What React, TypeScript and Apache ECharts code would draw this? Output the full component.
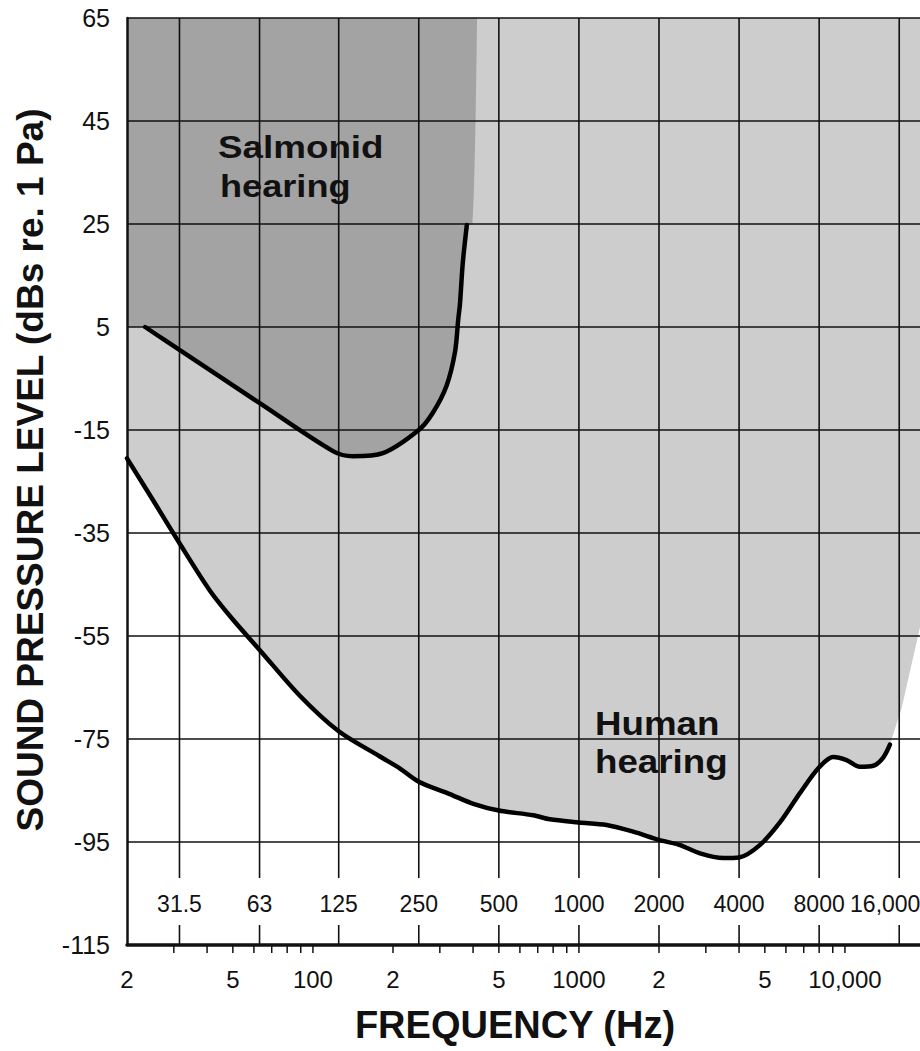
import React, { useEffect, useRef } from "react";
import * as echarts from "echarts";

const FONT = '"Liberation Sans", Arial, Helvetica, sans-serif';

// ---- axes ----
const yMin = -115;
const yMax = 65;
const yStep = 20;
const xMin = 20;
const xMax = 20000;

// lower frequency scale (labels + minor ticks below the axis)
const freqLabelValues = [20, 50, 100, 200, 500, 1000, 2000, 5000, 10000];
const freqLabelTexts = ["2", "5", "100", "2", "5", "1000", "2", "5", "10,000"];
const minorTickFreqs = [
  30, 40, 50, 60, 70, 80, 90, 100, 200, 300, 400, 500, 600, 700, 800, 900,
  1000, 2000, 3000, 4000, 5000, 6000, 7000, 8000, 9000, 10000,
];

// octave band grid lines and their labels
const octaveFreqs = [31.5, 63, 125, 250, 500, 1000, 2000, 4000, 8000, 16000];
const octaveLabels = ["31.5", "63", "125", "250", "500", "1000", "2000", "4000", "8000", "16,000"];
const octaveLineBottomDb = -102;

// ---- human hearing threshold ----
const humanFreq = [
  20, 25.1, 31.6, 41, 50, 62.8, 89.3, 125, 178.6, 212, 250, 327, 401, 500, 673, 778,
  1000, 1271, 1600, 2000, 2398, 2851, 3486, 4000, 4786, 5695, 6773, 8000, 9040,
  10145, 11380, 12780, 13930, 14760,
];
const humanDb = [
  -20.5, -28.7, -37.1, -46.2, -51.8, -57.6, -66.6, -73.5, -78.4, -80.7, -83.3, -85.7,
  -87.6, -88.9, -89.8, -90.6, -91.2, -91.7, -93, -94.6, -95.6, -97.2, -98.1, -98,
  -95.6, -91.2, -85.5, -80.5, -78.5, -79.1, -80.4, -80.2, -78.6, -76.1,
];
// white region right of the human curve end
const humanEdgeFreq = [14760, 16360, 20000, 20000, 14760];
const humanEdgeDb = [-76.1, -68.9, -49, -115, -115];

// ---- salmonid hearing threshold ----
const salmonFreq = [23.4, 31.6, 62.7, 118.9, 141.3, 183.2, 250, 282, 318, 342, 352, 357, 366, 379];
const salmonDb = [5, 0.5, -9.7, -19.1, -20.1, -19.5, -15, -11.7, -6.4, 0.1, 6.6, 9.4, 17.5, 24.8];
// extra boundary points of the dark salmonid zone
const salmonZoneStart = [[20, 5]];
const salmonZoneEnd = [[398, 25], [414, 65]];

const LIGHT = "#cdcdcd";
const DARK = "#a3a3a3";
const INK = "#111111";

export default function App() {
  const ref = useRef<HTMLDivElement>(null);

  useEffect(() => {
    if (!ref.current) return;
    const chart = echarts.init(ref.current, null, { renderer: "svg", width: 940, height: 1051 });

    const humanData = humanFreq.map((f, i) => [f, humanDb[i]]);
    const salmonData = salmonFreq.map((f, i) => [f, salmonDb[i]]);
    const salmonZone = [...salmonZoneStart, ...salmonData, ...salmonZoneEnd];

    const textStyle = (text: string, font: string, align: string) => ({
      text,
      font,
      fill: INK,
      align,
      textAlign: align,
      verticalAlign: "middle",
      textVerticalAlign: "middle",
    });

    const option: any = {
      animation: false,
      grid: {
        left: 127,
        right: 15,
        top: 18,
        bottom: 106,
        show: true,
        backgroundColor: LIGHT,
        borderWidth: 0,
        outerBoundsMode: "none",
      },
      xAxis: {
        type: "log",
        logBase: 10,
        min: xMin,
        max: xMax,
        z: 5,
        axisLine: { show: true, onZero: false, lineStyle: { color: INK, width: 3.5 } },
        axisTick: { show: false },
        splitLine: { show: false },
        minorTick: { show: false },
        axisLabel: {
          customValues: freqLabelValues,
          margin: 22,
          fontSize: 24,
          fontFamily: FONT,
          color: INK,
          formatter: (v: number) => {
            let best = 0;
            freqLabelValues.forEach((f, i) => {
              if (Math.abs(Math.log(f) - Math.log(v)) < Math.abs(Math.log(freqLabelValues[best]) - Math.log(v))) best = i;
            });
            return freqLabelTexts[best];
          },
        },
      },
      yAxis: {
        type: "value",
        min: yMin,
        max: yMax,
        interval: yStep,
        z: 5,
        axisLine: { show: true, lineStyle: { color: INK, width: 2.5 } },
        axisTick: { show: false },
        splitLine: { show: true, lineStyle: { color: INK, width: 1.6 } },
        axisLabel: { fontSize: 25, fontFamily: FONT, color: INK, margin: 17 },
      },
      graphic: [
        {
          type: "text",
          x: 30,
          y: 470,
          rotation: Math.PI / 2,
          style: textStyle("SOUND PRESSURE LEVEL (dBs re. 1 Pa)", `bold 37px ${FONT}`, "center"),
        },
        {
          type: "text",
          x: 515,
          y: 1025,
          style: textStyle("FREQUENCY (Hz)", `bold 38px ${FONT}`, "center"),
        },
        { type: "text", x: 218, y: 147, scaleX: 1.15, z: 20, style: textStyle("Salmonid", `bold 32px ${FONT}`, "left") },
        { type: "text", x: 220, y: 186, scaleX: 1.13, z: 20, style: textStyle("hearing", `bold 32px ${FONT}`, "left") },
        { type: "text", x: 595, y: 723, scaleX: 1.08, z: 20, style: textStyle("Human", `bold 34px ${FONT}`, "left") },
        { type: "text", x: 595, y: 761, scaleX: 1.08, z: 20, style: textStyle("hearing", `bold 34px ${FONT}`, "left") },
      ],
      series: [
        {
          name: "human-area",
          type: "line",
          data: humanData,
          smooth: 0.3,
          symbol: "none",
          silent: true,
          z: 2,
          lineStyle: { width: 0, opacity: 0 },
          areaStyle: { color: "#ffffff", opacity: 1, origin: "start" },
        },
        {
          name: "human-edge",
          type: "custom",
          silent: true,
          z: 2,
          data: [[xMax, yMin]],
          renderItem: (params: any, api: any) => {
            const pts = humanEdgeFreq.map((f, i) => api.coord([f, humanEdgeDb[i]]));
            return { type: "polygon", shape: { points: pts }, style: { fill: "#ffffff" } };
          },
        },
        {
          name: "salmonid-area",
          type: "line",
          data: salmonZone,
          smooth: 0.3,
          symbol: "none",
          silent: true,
          z: 2,
          lineStyle: { width: 0, opacity: 0 },
          areaStyle: { color: DARK, opacity: 1, origin: "end" },
        },
        {
          name: "octave-grid",
          type: "custom",
          silent: true,
          z: 6,
          clip: false,
          data: octaveFreqs.map((f, i) => [f, yMin, i]),
          renderItem: (params: any, api: any) => {
            const f = api.value(0);
            const i = api.value(2);
            const top = api.coord([f, yMax]);
            const bot = api.coord([f, octaveLineBottomDb]);
            const ax = api.coord([f, yMin]);
            const last = i === octaveFreqs.length - 1;
            return {
              type: "group",
              children: [
                { type: "line", shape: { x1: top[0], y1: top[1], x2: bot[0], y2: bot[1] }, style: { stroke: INK, lineWidth: 1.6 } },
                { type: "line", shape: { x1: ax[0], y1: ax[1] - 20, x2: ax[0], y2: ax[1] }, style: { stroke: INK, lineWidth: 1.6 } },
                {
                  type: "text",
                  x: last ? ax[0] - 14 : ax[0],
                  y: ax[1] - 41,
                  style: textStyle(octaveLabels[i], `23px ${FONT}`, "center"),
                },
              ],
            };
          },
        },
        {
          name: "minor-ticks",
          type: "custom",
          silent: true,
          z: 6,
          clip: false,
          data: minorTickFreqs.map((f) => [f, yMin]),
          renderItem: (params: any, api: any) => {
            const p = api.coord([api.value(0), yMin]);
            return { type: "line", shape: { x1: p[0], y1: p[1], x2: p[0], y2: p[1] + 8 }, style: { stroke: INK, lineWidth: 1.5 } };
          },
        },
        {
          name: "Human hearing",
          type: "line",
          data: humanData,
          smooth: 0.3,
          symbol: "none",
          z: 10,
          lineStyle: { color: "#000", width: 4.5, cap: "round" },
        },
        {
          name: "Salmonid hearing",
          type: "line",
          data: salmonData,
          smooth: 0.3,
          symbol: "none",
          z: 10,
          lineStyle: { color: "#000", width: 4.5, cap: "round" },
        },
      ],
    };

    chart.setOption(option);
    return () => chart.dispose();
  }, []);

  return (
    <div style={{ position: "absolute", left: 0, top: 0, width: 920, height: 1051, overflow: "hidden", background: "#fff" }}>
      <div ref={ref} style={{ width: 940, height: 1051 }} />
    </div>
  );
}
